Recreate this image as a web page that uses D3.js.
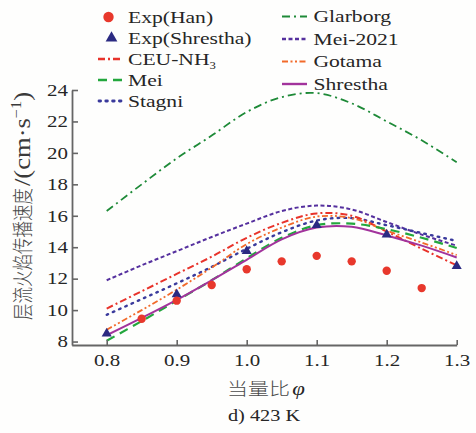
<!DOCTYPE html>
<html>
<head>
<meta charset="utf-8">
<script src="https://cdn.jsdelivr.net/npm/d3@7"></script>
<style>
  html, body { margin: 0; padding: 0; background: #fefefd; }
  svg { display: block; }
</style>
</head>
<body>
<svg id="chart" width="476" height="433"></svg>
<script>
// Laminar burning velocity of NH3/air at 423 K versus equivalence ratio
const phi = [0.80, 0.85, 0.90, 0.95, 1.00, 1.05, 1.10, 1.15, 1.20, 1.25, 1.30];

// Model predictions, cm/s
const ceuNH3   = [10.1, 11.2, 12.3, 13.4, 14.6, 15.55, 16.15, 16.0, 15.0, 13.9, 12.85];
const mei      = [8.05, 9.3, 10.6, 11.9, 13.3, 14.6, 15.4, 15.5, 15.15, 14.6, 13.95];
const stagni   = [9.7, 10.7, 11.7, 12.75, 13.9, 14.95, 15.7, 15.85, 15.4, 14.9, 14.4];
const glarborg = [16.3, 18.0, 19.65, 21.1, 22.6, 23.55, 23.8, 23.15, 22.0, 20.8, 19.4];
const mei2021  = [11.9, 12.85, 13.75, 14.65, 15.5, 16.3, 16.65, 16.4, 15.6, 14.8, 14.1];
const gotama   = [8.75, 10.0, 11.3, 12.7, 14.2, 15.25, 15.95, 15.85, 15.05, 14.3, 13.5];
const shrestha = [8.4, 9.5, 10.65, 11.9, 13.2, 14.5, 15.25, 15.3, 14.75, 14.1, 13.35];

// Measurements, cm/s
const hanPhi = [0.85, 0.90, 0.95, 1.00, 1.05, 1.10, 1.15, 1.20, 1.25];
const hanSL  = [9.45, 10.6, 11.6, 12.6, 13.1, 13.45, 13.1, 12.5, 11.4];
const shresthaExpPhi = [0.80, 0.90, 1.00, 1.10, 1.20, 1.30];
const shresthaExpSL  = [8.5, 11.0, 13.75, 15.4, 14.8, 12.8];

// Axis ticks
const xTicks = [0.8, 0.9, 1.0, 1.1, 1.2, 1.3];
const yTicks = [8, 10, 12, 14, 16, 18, 20, 22, 24];

// Labels
const xTitle = "当量比";
const xSymbol = "φ";
const yTitleZh = "层流火焰传播速度";
const caption = "d) 423 K";

const svg = d3.select("#chart");
const SX = 1.27; // lettering is set wide
const serif = "'Liberation Serif','Times New Roman',serif";
const cjk = "'Noto Sans CJK SC','Noto Sans CJK JP',sans-serif";
const ink = "#262626";
const cjkInk = "#4a4a4a";
const axisColor = "#666";

const x = d3.scaleLinear().domain([0.75, 1.3]).range([71.7, 456.7]);
const y = d3.scaleLinear().domain([7.78, 24]).range([345, 90]);

// ---- model curves ----
const models = [
  { name: "Glarborg", values: glarborg, color: "#1e8a38", dash: "8,4,2,4", width: 1.8 },
  { name: "Mei-2021", values: mei2021,  color: "#55309e", dash: "4,2.5",   width: 2.0 },
  { name: "Stagni",   values: stagni,   color: "#3a3a9c", dash: "1.6,5.2", width: 2.4, cap: "round" },
  { name: "CEU-NH3",  values: ceuNH3,   color: "#e8332b", dash: "7,3,2,3", width: 2.0 },
  { name: "Gotama",   values: gotama,   color: "#f26a2a", dash: "6,2.5,2,2.5,2,2.5", width: 1.8 },
  { name: "Mei",      values: mei,      color: "#23a73d", dash: "9,6",     width: 2.2 },
  { name: "Shrestha", values: shrestha, color: "#a2339c", dash: null,      width: 2.0 }
];
const byName = Object.fromEntries(models.map(m => [m.name, m]));

const line = d3.line()
  .x((d, i) => x(phi[i]))
  .y(d => y(d))
  .curve(d3.curveCatmullRom.alpha(0.5));

const plot = svg.append("g");
models.forEach(m => {
  plot.append("path")
    .attr("d", line(m.values))
    .attr("fill", "none")
    .attr("stroke", m.color)
    .attr("stroke-width", m.width)
    .attr("stroke-dasharray", m.dash)
    .attr("stroke-linecap", m.cap || "butt");
});

// ---- experimental points ----
const triColor = "#2b2a82";
const hanColor = "#e8382c";
const tri = d3.symbol().type(d3.symbolTriangle).size(44);

plot.selectAll("path.exp-shrestha")
  .data(shresthaExpPhi)
  .join("path")
  .attr("class", "exp-shrestha")
  .attr("d", tri)
  .attr("transform", (d, i) => `translate(${x(d)},${y(shresthaExpSL[i])})`)
  .attr("fill", triColor);

plot.selectAll("circle.exp-han")
  .data(hanPhi)
  .join("circle")
  .attr("class", "exp-han")
  .attr("cx", d => x(d))
  .attr("cy", (d, i) => y(hanSL[i]))
  .attr("r", 4.2)
  .attr("fill", hanColor);

// ---- axes ----
const gy = svg.append("g")
  .attr("transform", "translate(72,0)")
  .call(d3.axisLeft(y).tickValues(yTicks).tickSize(-6).tickSizeOuter(0)
        .tickPadding(0).tickFormat(d3.format("d")));
gy.attr("font-family", serif).attr("font-size", 16.5);
gy.selectAll("text")
  .attr("x", -4 / SX)
  .attr("transform", `scale(${SX},1)`)
  .attr("fill", ink);

const gx = svg.append("g")
  .attr("transform", "translate(0,345)")
  .call(d3.axisBottom(x).tickValues(xTicks).tickSize(-5).tickSizeOuter(0)
        .tickPadding(9.5).tickFormat(d3.format(".1f")));
gx.attr("font-family", serif).attr("font-size", 16.5);
gx.selectAll("text")
  .attr("transform", `scale(${SX},1)`)
  .attr("fill", ink);

[gx, gy].forEach(g => {
  g.select(".domain").attr("stroke", axisColor).attr("stroke-width", 1.8);
  g.selectAll(".tick line").attr("stroke", axisColor).attr("stroke-width", 1.6);
});

// ---- axis titles ----
const xt = svg.append("text")
  .attr("transform", `translate(266,395) scale(${SX},1)`)
  .attr("text-anchor", "middle")
  .attr("fill", ink);
xt.append("tspan").attr("font-family", cjk).attr("font-size", 16.5)
  .attr("font-weight", 300).attr("fill", cjkInk).text(xTitle);
xt.append("tspan").attr("font-family", serif).attr("font-size", 18)
  .attr("font-style", "italic").attr("dx", 2).text(xSymbol);

const yt = svg.append("g")
  .attr("transform", `translate(29.5,320) scale(${SX},1) rotate(-90)`);
yt.append("text")
  .attr("font-family", cjk).attr("font-size", 16.5).attr("font-weight", 300)
  .attr("fill", cjkInk)
  .text(yTitleZh);
const unit = yt.append("text")
  .attr("x", 134)
  .attr("font-family", serif).attr("font-size", 18).attr("fill", "#3a3a3a")
  .attr("textLength", 94).attr("lengthAdjust", "spacingAndGlyphs");
unit.append("tspan").text("/(cm·s");
unit.append("tspan").attr("font-size", 11).attr("dy", -7).text("−1");
unit.append("tspan").attr("dy", 7).text(")");

svg.append("text")
  .attr("transform", `translate(264,421) scale(${SX},1)`)
  .attr("text-anchor", "middle")
  .attr("font-family", serif).attr("font-size", 16)
  .attr("fill", ink)
  .text(caption);

// ---- legend ----
const legend = svg.append("g");
function legendText(px, py, str, sub) {
  const t = legend.append("text")
    .attr("transform", `translate(${px},${py}) scale(${SX},1)`)
    .attr("font-family", serif).attr("font-size", 17).attr("fill", ink)
    .text(str);
  if (sub) t.append("tspan").attr("font-size", 10).attr("dy", 4).text(sub);
}
function legendLine(x0, x1, cy, m) {
  legend.append("line")
    .attr("x1", x0).attr("x2", x1).attr("y1", cy).attr("y2", cy)
    .attr("stroke", m.color).attr("stroke-width", m.width + 0.4)
    .attr("stroke-dasharray", m.dash)
    .attr("stroke-linecap", m.cap || "butt");
}

const leftRows = [17, 38, 59, 80, 101];
legend.append("circle").attr("cx", 108.5).attr("cy", leftRows[0]).attr("r", 5.2).attr("fill", hanColor);
legendText(128, leftRows[0] + 5.5, "Exp(Han)");
legend.append("path").attr("d", d3.symbol().type(d3.symbolTriangle).size(60)())
  .attr("transform", `translate(111.5,${leftRows[1]})`).attr("fill", triColor);
legendText(128, leftRows[1] + 5.5, "Exp(Shrestha)");
legendLine(98, 123, leftRows[2], byName["CEU-NH3"]);
legendText(128, leftRows[2] + 5.5, "CEU-NH", "3");
legendLine(98, 125, leftRows[3], byName["Mei"]);
legendText(128, leftRows[3] + 5.5, "Mei");
legendLine(99, 124, leftRows[4], byName["Stagni"]);
legendText(128, leftRows[4] + 5.5, "Stagni");

const rightRows = [16.5, 39, 61.5, 84];
["Glarborg", "Mei-2021", "Gotama", "Shrestha"].forEach((name, i) => {
  legendLine(282, 307, rightRows[i], byName[name]);
  legendText(313.5, rightRows[i] + 5.5, name);
});
</script>
</body>
</html>
